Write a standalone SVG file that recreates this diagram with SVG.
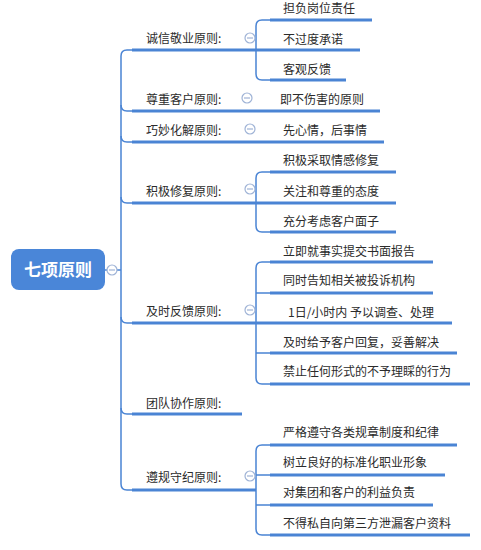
<svg xmlns="http://www.w3.org/2000/svg" width="481" height="550" viewBox="0 0 481 550">
<style>
text{font-family:"Noto Sans CJK SC","Liberation Sans",sans-serif;font-size:12px;fill:#2b2b2b}
.root{font-size:17px;font-weight:bold;fill:#fff}
.u{stroke:#4a84d4;stroke-width:3;fill:none}
.c{stroke:#4a84d4;stroke-width:1.5;fill:none}
.col circle{fill:#fff;stroke:#9fb3d6;stroke-width:1.2}
.col line{stroke:#9fb3d6;stroke-width:1.2}
</style>
<rect width="481" height="550" fill="#fff"/>
<g id="connectors">
<path class="c" d="M105 270H121"/>
<path class="c" d="M133 50H127Q121 50 121 56V484Q121 490 127 490H133"/>
<path class="c" d="M121 105Q121 111 127 111H133"/>
<path class="c" d="M121 136Q121 142 127 142H133"/>
<path class="c" d="M121 197Q121 203 127 203H133"/>
<path class="c" d="M121 317Q121 323 127 323H133"/>
<path class="c" d="M121 408Q121 414 127 414H133"/>
<path class="c" d="M256 50V26Q256 20 262 20H270M256 50V74Q256 80 262 80H270"/>
<path class="c" d="M256 203V178Q256 172 262 172H270M256 203V226Q256 232 262 232H270"/>
<path class="c" d="M256 323V268Q256 262 262 262H270M256 293H270M256 323V378Q256 384 262 384H270M256 353H270"/>
<path class="c" d="M256 490V451Q256 445 262 445H270M256 475H270M256 490V529Q256 535 262 535H270M256 505H270"/>
<path class="u" d="M132 50H360"/>
<path class="u" d="M270 20H372M270 80H346"/>
<path class="u" d="M132 111H380"/>
<path class="u" d="M132 142H384"/>
<path class="u" d="M132 203H396M270 172H396M270 232H396"/>
<path class="u" d="M132 323H452M270 262H433M270 293H433M270 353H457M270 384H470"/>
<path class="u" d="M132 414H242"/>
<path class="u" d="M132 490H256M270 445H457M270 475H445M270 505H433M270 535H470"/>
</g>
<g id="root">
<rect x="11" y="249" width="94" height="41" rx="8" fill="#4a86d8"/>
<text class="root" x="58" y="276" text-anchor="middle">七项原则</text>
<g class="col"><circle cx="112" cy="270" r="5"/><line x1="109" y1="270" x2="115" y2="270"/></g>
</g>
<g id="b1">
<text x="146" y="43">诚信敬业原则:</text>
<g class="col"><circle cx="250" cy="38" r="5"/><line x1="247" y1="38" x2="253" y2="38"/></g>
</g>
<g id="b1c1"><text x="283" y="13">担负岗位责任</text></g>
<g id="b1c2"><text x="283" y="44">不过度承诺</text></g>
<g id="b1c3"><text x="283" y="74">客观反馈</text></g>
<g id="b2">
<text x="146" y="104">尊重客户原则:</text>
<g class="col"><circle cx="247" cy="98" r="5"/><line x1="244" y1="98" x2="250" y2="98"/></g>
</g>
<g id="b2c1"><text x="280" y="104">即不伤害的原则</text></g>
<g id="b3">
<text x="146" y="135">巧妙化解原则:</text>
<g class="col"><circle cx="250" cy="129" r="5"/><line x1="247" y1="129" x2="253" y2="129"/></g>
</g>
<g id="b3c1"><text x="283" y="135">先心情，后事情</text></g>
<g id="b4">
<text x="146" y="196">积极修复原则:</text>
<g class="col"><circle cx="250" cy="189" r="5"/><line x1="247" y1="189" x2="253" y2="189"/></g>
</g>
<g id="b4c1"><text x="283" y="165">积极采取情感修复</text></g>
<g id="b4c2"><text x="283" y="196">关注和尊重的态度</text></g>
<g id="b4c3"><text x="283" y="226">充分考虑客户面子</text></g>
<g id="b5">
<text x="146" y="316">及时反馈原则:</text>
<g class="col"><circle cx="250" cy="310" r="5"/><line x1="247" y1="310" x2="253" y2="310"/></g>
</g>
<g id="b5c1"><text x="283" y="256">立即就事实提交书面报告</text></g>
<g id="b5c2"><text x="283" y="285">同时告知相关被投诉机构</text></g>
<g id="b5c3"><text x="288" y="317">1日/小时内 予以调查、处理</text></g>
<g id="b5c4"><text x="283" y="347">及时给予客户回复，妥善解决</text></g>
<g id="b5c5"><text x="283" y="376">禁止任何形式的不予理睬的行为</text></g>
<g id="b6"><text x="146" y="408">团队协作原则:</text></g>
<g id="b7">
<text x="146" y="482">遵规守纪原则:</text>
<g class="col"><circle cx="250" cy="476" r="5"/><line x1="247" y1="476" x2="253" y2="476"/></g>
</g>
<g id="b7c1"><text x="283" y="437">严格遵守各类规章制度和纪律</text></g>
<g id="b7c2"><text x="283" y="467">树立良好的标准化职业形象</text></g>
<g id="b7c3"><text x="283" y="497">对集团和客户的利益负责</text></g>
<g id="b7c4"><text x="283" y="528">不得私自向第三方泄漏客户资料</text></g>
</svg>
